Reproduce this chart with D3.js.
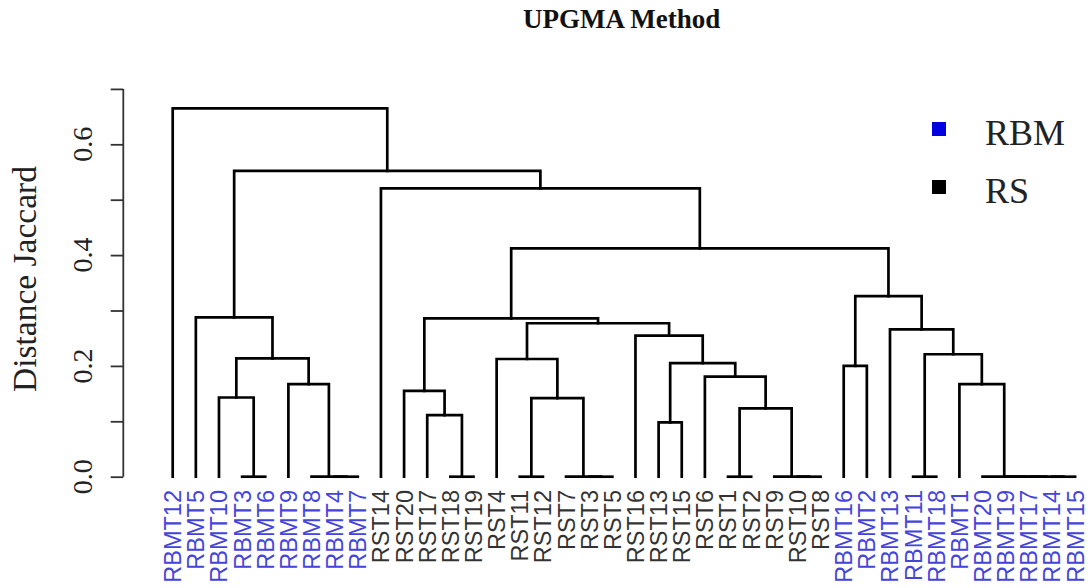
<!DOCTYPE html>
<html>
<head>
<meta charset="utf-8">
<script src="https://cdn.jsdelivr.net/npm/d3@7"></script>
<style>
  html, body { margin: 0; padding: 0; background: #ffffff; }
  svg { display: block; }
</style>
</head>
<body>
<svg id="chart" width="1091" height="588"></svg>
<script>
// Leaf labels in dendrogram order (left to right)
const leafLabels = [
  "RBMT12","RBMT5","RBMT10","RBMT3","RBMT6","RBMT9","RBMT8","RBMT4","RBMT7",
  "RST14","RST20","RST17","RST18","RST19","RST4","RST11","RST12","RST7","RST3","RST5",
  "RST16","RST13","RST15","RST6","RST1","RST2","RST9","RST10","RST8",
  "RBMT16","RBMT2","RBMT13","RBMT11","RBMT18","RBMT1","RBMT20","RBMT19","RBMT17","RBMT14","RBMT15"
];

// Group of each sample
const groupNames = ["RBM", "RS"];
const groupColors = ["#2424d8", "#000000"];

// Agglomeration steps: left member, right member (leaf label or step index), merge height
const mergeLeft = [
  "RBMT3","RBMT4","RBMT8","RST18","RST11","RST3","RST7","RST1","RST10","RST9",
  "RBMT11","RBMT14","RBMT17","RBMT19","RBMT20",
  "RST13","RST17","RBMT10",4,"RST20","RBMT9","RBMT1",7,"RST6","RBMT16",15,"RST4",17,10,
  "RST16","RBMT13",26,"RBMT5",19,24,33,"RST14",32,"RBMT12"
];
const mergeRight = [
  "RBMT6","RBMT7",1,"RST19","RST12","RST5",5,"RST2","RST8",8,
  "RBMT18","RBMT15",11,12,13,
  "RST15",3,0,6,16,2,14,9,22,"RBMT2",23,18,20,21,
  25,28,29,27,31,30,34,35,36,37
];
const mergeHeight = [
  0,0,0,0,0,0,0,0,0,0,
  0,0,0,0,0,
  0.098,0.111,0.143,0.142,0.155,0.167,0.167,0.1235,0.1805,0.200,0.205,0.2125,0.2137,0.221,
  0.2545,0.266,0.277,0.2877,0.2859,0.326,0.412,0.5206,0.552,0.665
];

const yTicks = [0, 0.1, 0.2, 0.3, 0.4, 0.5, 0.6, 0.7];

const svg = d3.select("#chart");

const x = d3.scalePoint().domain(leafLabels).range([172.7, 1075.1]);
const y = d3.scaleLinear().domain([0, 0.6]).range([476.7, 144.3]);

// Resolve a member of a merge step into {x, h}
const nodePos = [];
function member(m) {
  if (typeof m === "string") return { x: x(m), h: 0 };
  return nodePos[m];
}
mergeHeight.forEach((h, i) => {
  const a = member(mergeLeft[i]);
  const b = member(mergeRight[i]);
  nodePos[i] = { x: (a.x + b.x) / 2, h: h, a: a, b: b };
});

// Dendrogram branches
svg.append("g")
  .attr("fill", "none")
  .attr("stroke", "#000")
  .attr("stroke-width", 2.7)
  .attr("stroke-linecap", "square")
  .selectAll("path")
  .data(nodePos)
  .join("path")
  .attr("d", d => `M${d.a.x},${y(d.a.h)}V${y(d.h)}H${d.b.x}V${y(d.b.h)}`);

// Leaf labels
const groupOf = l => l.startsWith("RBMT") ? 0 : 1;
svg.append("g")
  .selectAll("text")
  .data(leafLabels)
  .join("text")
  .attr("transform", d => `translate(${x(d)},490) rotate(-90)`)
  .attr("dy", "0.36em")
  .attr("text-anchor", "end")
  .attr("font-family", "'Liberation Sans', Arial, sans-serif")
  .attr("font-size", 23.5)
  .attr("fill", d => groupColors[groupOf(d)])
  .attr("opacity", d => groupOf(d) === 0 ? 0.85 : 0.8)
  .text(d => d);

// Y axis
const axis = d3.axisLeft(y)
  .tickValues(yTicks)
  .tickSize(12.6)
  .tickSizeOuter(0)
  .tickFormat(() => "");
const ga = svg.append("g")
  .attr("transform", "translate(123.3,0)")
  .call(axis);
ga.select(".domain").attr("stroke", "#333").attr("stroke-width", 1.8)
  .attr("d", `M0,${y(0)}V${y(0.7)}`);
ga.selectAll(".tick line").attr("stroke", "#333").attr("stroke-width", 1.8);

svg.append("g")
  .selectAll("text")
  .data(yTicks.filter((t, i) => i % 2 === 0 && t < 0.65))
  .join("text")
  .attr("transform", d => `translate(91.5,${y(d)}) rotate(-90)`)
  .attr("text-anchor", "middle")
  .attr("font-family", "'Liberation Serif', 'Times New Roman', serif")
  .attr("font-size", 28)
  .attr("fill", "#222")
  .text(d => d.toFixed(1));

// Axis title
svg.append("text")
  .attr("transform", "translate(36,279) rotate(-90)")
  .attr("text-anchor", "middle")
  .attr("font-family", "'Liberation Serif', 'Times New Roman', serif")
  .attr("font-size", 33.5)
  .attr("fill", "#222")
  .text("Distance Jaccard");

// Chart title
svg.append("text")
  .attr("x", 621.7)
  .attr("y", 28)
  .attr("text-anchor", "middle")
  .attr("font-family", "'Liberation Serif', 'Times New Roman', serif")
  .attr("font-weight", "bold")
  .attr("font-size", 27)
  .attr("fill", "#111")
  .text("UPGMA Method");

// Legend
const legend = svg.append("g").selectAll("g")
  .data(groupNames)
  .join("g")
  .attr("transform", (d, i) => `translate(939,${129 + i * 58})`);
legend.append("rect")
  .attr("x", -7).attr("y", -7).attr("width", 14).attr("height", 14)
  .attr("fill", (d, i) => i === 0 ? "#0000e0" : "#000");
legend.append("text")
  .attr("x", 46)
  .attr("y", 16)
  .attr("font-family", "'Liberation Serif', 'Times New Roman', serif")
  .attr("font-size", 36)
  .attr("fill", "#222")
  .text(d => d);
</script>
</body>
</html>
